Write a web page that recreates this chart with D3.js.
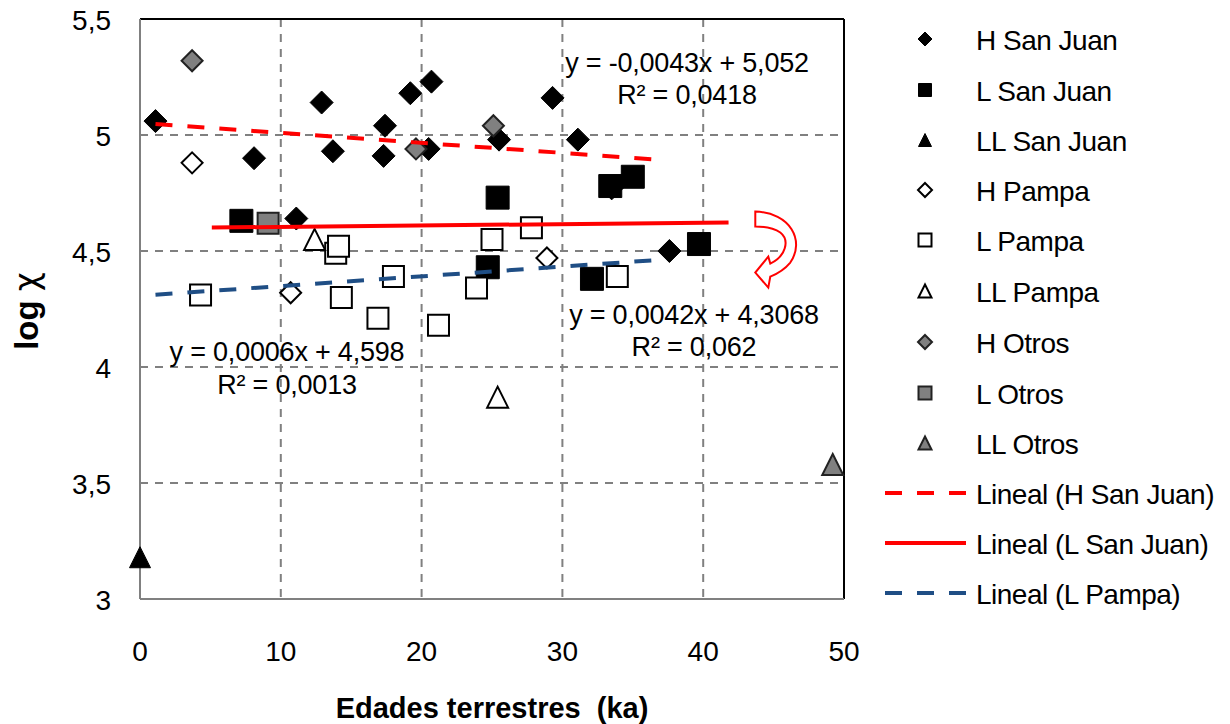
<!DOCTYPE html>
<html lang="es">
<head>
<meta charset="utf-8">
<title>log chi vs edades terrestres</title>
<script src="https://d3js.org/d3.v7.min.js"></script>
<style>
  body { margin: 0; background: #fff; }
  text { font-family: "Liberation Sans", Arial, sans-serif; fill: #000; }
</style>
</head>
<body>
<script>
// ---- data (x = edad terrestre ka, y = log chi) ----
var hSanJuanX  = [1.1, 8.1, 11.1, 12.9, 13.7, 17.3, 17.4, 19.2, 20.5, 20.7, 25.5, 29.3, 31.1, 33.5, 37.6];
var hSanJuanY  = [5.06, 4.90, 4.64, 5.14, 4.93, 4.91, 5.04, 5.18, 4.94, 5.23, 4.98, 5.16, 4.98, 4.77, 4.50];
var lSanJuanX  = [7.2, 24.7, 25.4, 32.1, 33.4, 35.0, 39.7];
var lSanJuanY  = [4.63, 4.43, 4.73, 4.38, 4.78, 4.82, 4.53];
var llSanJuanX = [0];
var llSanJuanY = [3.18];
var hPampaX    = [3.7, 10.7, 28.9];
var hPampaY    = [4.88, 4.32, 4.47];
var lPampaX    = [4.3, 13.9, 14.1, 14.3, 16.9, 18.0, 21.2, 23.9, 25.0, 27.8, 33.9];
var lPampaY    = [4.31, 4.49, 4.52, 4.30, 4.21, 4.39, 4.18, 4.34, 4.55, 4.60, 4.39];
var llPampaX   = [12.4, 25.4];
var llPampaY   = [4.55, 3.87];
var hOtrosX    = [3.7, 19.6, 25.1];
var hOtrosY    = [5.32, 4.94, 5.04];
var lOtrosX    = [9.1];
var lOtrosY    = [4.62];
var llOtrosX   = [49.2];
var llOtrosY   = [3.58];

// trendlines: slope, intercept, x range
var trendNames  = ["Lineal (H San Juan)", "Lineal (L San Juan)", "Lineal (L Pampa)"];
var trendSlope  = [-0.0043, 0.0006, 0.0042];
var trendInter  = [5.052, 4.598, 4.3068];
var trendX0     = [1.1, 5.1, 1.1];
var trendX1     = [36.6, 41.8, 36.7];
var trendEq     = ["y = -0,0043x + 5,052", "y = 0,0006x + 4,598", "y = 0,0042x + 4,3068"];
var trendR2     = ["R² = 0,0418", "R² = 0,0013", "R² = 0,062"];

var xTicks = [0, 10, 20, 30, 40, 50];
var yTicks = [3, 3.5, 4, 4.5, 5, 5.5];

var width = 1230, height = 724;

var svg = d3.select("body").append("svg")
  .attr("width", width)
  .attr("height", height);

var x = d3.scaleLinear().domain([0, 50]).range([140, 844]);
var y = d3.scaleLinear().domain([3, 5.5]).range([599, 19]);

// marker shapes (Excel-like)
function diamond(r) { return "M0," + (-r) + "L" + r + ",0L0," + r + "L" + (-r) + ",0Z"; }
function square(s) { var h = s / 2; return "M" + (-h) + "," + (-h) + "h" + s + "v" + s + "h" + (-s) + "Z"; }
function triangle(s) { var h = s / 2; return "M0," + (-h) + "L" + h + "," + h + "L" + (-h) + "," + h + "Z"; }

var series = [
  { name: "H San Juan",  xs: hSanJuanX,  ys: hSanJuanY,  shape: "d", fill: "#000", stroke: "#000", sw: 1 },
  { name: "L San Juan",  xs: lSanJuanX,  ys: lSanJuanY,  shape: "s", fill: "#000", stroke: "#000", sw: 1 },
  { name: "LL San Juan", xs: llSanJuanX, ys: llSanJuanY, shape: "t", fill: "#000", stroke: "#000", sw: 1 },
  { name: "H Pampa",     xs: hPampaX,    ys: hPampaY,    shape: "d", fill: "#fff", stroke: "#000", sw: 2 },
  { name: "L Pampa",     xs: lPampaX,    ys: lPampaY,    shape: "s", fill: "#fff", stroke: "#000", sw: 2 },
  { name: "LL Pampa",    xs: llPampaX,   ys: llPampaY,   shape: "t", fill: "#fff", stroke: "#000", sw: 2 },
  { name: "H Otros",     xs: hOtrosX,    ys: hOtrosY,    shape: "d", fill: "#808080", stroke: "#222", sw: 2 },
  { name: "L Otros",     xs: lOtrosX,    ys: lOtrosY,    shape: "s", fill: "#808080", stroke: "#222", sw: 2 },
  { name: "LL Otros",    xs: llOtrosX,   ys: llOtrosY,   shape: "t", fill: "#808080", stroke: "#222", sw: 2 }
];

function plotShape(s) {
  if (s.shape == "d") return diamond(s.sw == 1 ? 11.5 : 10.5);
  if (s.shape == "s") return square(s.sw == 1 ? 23 : 21);
  return triangle(21);
}
function legendShape(s) {
  if (s.shape == "d") return diamond(7);
  if (s.shape == "s") return square(13);
  return triangle(13);
}

var trendStyle = [
  { color: "#ff0000", dash: "17,15" },
  { color: "#ff0000", dash: null },
  { color: "#1f4e85", dash: "17,15" }
];

// ---- grid ----
var grid = svg.append("g");
grid.selectAll(".gx").data(xTicks.slice(1, -1)).enter().append("line")
  .attr("x1", d => x(d)).attr("x2", d => x(d))
  .attr("y1", y(5.5)).attr("y2", y(3))
  .attr("stroke", "#808080").attr("stroke-width", 2).attr("stroke-dasharray", "8,7");
grid.selectAll(".gy").data(yTicks.slice(1, -1)).enter().append("line")
  .attr("x1", x(0)).attr("x2", x(50))
  .attr("y1", d => y(d)).attr("y2", d => y(d))
  .attr("stroke", "#808080").attr("stroke-width", 2).attr("stroke-dasharray", "8,7");

// plot border: top and right black, axes grey
svg.append("line").attr("x1", x(0)).attr("x2", x(50)).attr("y1", y(5.5)).attr("y2", y(5.5))
  .attr("stroke", "#000").attr("stroke-width", 2);
svg.append("line").attr("x1", x(50)).attr("x2", x(50)).attr("y1", y(5.5)).attr("y2", y(3))
  .attr("stroke", "#000").attr("stroke-width", 2);
svg.append("line").attr("x1", x(0)).attr("x2", x(0)).attr("y1", y(5.5)).attr("y2", y(3))
  .attr("stroke", "#808080").attr("stroke-width", 2);
svg.append("line").attr("x1", x(0)).attr("x2", x(50)).attr("y1", y(3)).attr("y2", y(3))
  .attr("stroke", "#808080").attr("stroke-width", 2);

// ---- ticks ----
svg.selectAll(".xt").data(xTicks).enter().append("text")
  .attr("x", d => x(d)).attr("y", 661)
  .attr("text-anchor", "middle").style("font-size", "28px")
  .text(d => d);
svg.selectAll(".yt").data(yTicks).enter().append("text")
  .attr("x", 111).attr("y", d => y(d) + 11)
  .attr("text-anchor", "end").style("font-size", "28px")
  .text(d => String(d).replace(".", ","));

// ---- axis titles ----
svg.append("text")
  .attr("x", 492).attr("y", 718)
  .attr("text-anchor", "middle")
  .attr("xml:space", "preserve")
  .style("font-size", "29px").style("font-weight", "bold")
  .text("Edades terrestres  (ka)");
var yt = svg.append("text")
  .attr("transform", "translate(38,311) rotate(-90)")
  .attr("text-anchor", "middle")
  .style("font-size", "33px").style("font-weight", "bold");
yt.append("tspan").text("log ");
yt.append("tspan").style("font-family", "'DejaVu Sans', sans-serif").style("font-weight", "normal").text("χ");

// ---- points ----
series.forEach(function(s) {
  var pts = s.xs.map(function(v, i) { return [v, s.ys[i]]; });
  svg.append("g").selectAll("path").data(pts).enter().append("path")
    .attr("transform", d => "translate(" + x(d[0]) + "," + y(d[1]) + ")")
    .attr("d", plotShape(s))
    .attr("fill", s.fill).attr("stroke", s.stroke).attr("stroke-width", s.sw)
    .attr("stroke-linejoin", "miter");
});

// ---- trendlines ----
trendNames.forEach(function(n, i) {
  var ends = [trendX0[i], trendX1[i]].map(v => [v, trendSlope[i] * v + trendInter[i]]);
  svg.append("path")
    .attr("d", d3.line().x(d => x(d[0])).y(d => y(d[1]))(ends))
    .attr("fill", "none")
    .attr("stroke", trendStyle[i].color).attr("stroke-width", 4)
    .attr("stroke-dasharray", trendStyle[i].dash);
});

// ---- trend equations ----
var eqPos = [[687, 72, 104], [287, 361, 394], [694, 324, 356]];
trendEq.forEach(function(t, i) {
  svg.append("text").attr("x", eqPos[i][0]).attr("y", eqPos[i][1])
    .attr("text-anchor", "middle").style("font-size", "27px").style("letter-spacing", "-0.2px")
    .text(t);
  svg.append("text").attr("x", eqPos[i][0]).attr("y", eqPos[i][2])
    .attr("text-anchor", "middle").style("font-size", "27px").style("letter-spacing", "-0.2px")
    .text(trendR2[i]);
});

// ---- curved arrow annotation ----
svg.append("path")
  .attr("transform", "translate(" + x(43.7) + "," + y(4.67) + ")")
  .attr("d", "M0,0 C35,1 50,29 35,51 C30,57 25,61 15,65 L13,76 L0,61 L13,45 L15,52 C30,45 35,29 25,21 C18,16 10,15 0,15 Z")
  .attr("fill", "#fff").attr("stroke", "#ff0000").attr("stroke-width", 2);

// ---- legend ----
var legendY = [39, 90, 140, 190, 240, 291, 342, 393, 443, 493, 543, 593];
var leg = svg.append("g");
series.forEach(function(s, i) {
  leg.append("path")
    .attr("transform", "translate(925," + legendY[i] + ")")
    .attr("d", legendShape(s))
    .attr("fill", s.fill).attr("stroke", s.stroke).attr("stroke-width", s.sw == 1 ? 1 : 2);
  leg.append("text").attr("x", 976).attr("y", legendY[i] + 11)
    .style("font-size", "28px").style("letter-spacing", "-0.5px")
    .text(s.name);
});
trendNames.forEach(function(n, i) {
  var ly = legendY[series.length + i];
  leg.append("line").attr("x1", 885).attr("x2", 966).attr("y1", ly).attr("y2", ly)
    .attr("stroke", trendStyle[i].color).attr("stroke-width", 4)
    .attr("stroke-dasharray", trendStyle[i].dash);
  leg.append("text").attr("x", 976).attr("y", ly + 11)
    .style("font-size", "28px").style("letter-spacing", "-0.5px")
    .text(n);
});
</script>
</body>
</html>
